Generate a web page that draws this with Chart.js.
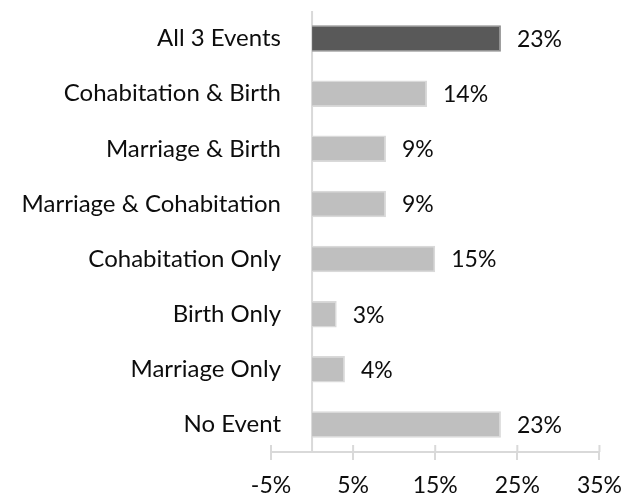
<!DOCTYPE html>
<html>
<head>
<meta charset="utf-8">
<script src="https://cdn.jsdelivr.net/npm/chart.js@4/dist/chart.umd.min.js"></script>
<style>
  html, body { margin: 0; padding: 0; background: #ffffff; }
  #wrap { width: 634px; height: 499px; }
</style>
</head>
<body>
<div id="wrap"><canvas id="c" width="634" height="499"></canvas></div>
<script>
const categories = ['All 3 Events', 'Cohabitation & Birth', 'Marriage & Birth', 'Marriage & Cohabitation', 'Cohabitation Only', 'Birth Only', 'Marriage Only', 'No Event'];
const percentages = [23, 14, 9, 9, 15, 3, 4, 23];
const xTickValues = [-5, 5, 15, 25, 35];
const highlightedCategory = 'All 3 Events';

const FONT = 'Lato, "Open Sans", sans-serif';
const FSIZE = 24;
const NSIZE = 23;
const TEXT = '#0d0d0d';
const AXIS = '#d9d9d9';

const zeroLine = {
  id: 'zeroLine',
  beforeDatasetsDraw(chart) {
    const {ctx, chartArea, scales} = chart;
    const x = scales.x.getPixelForValue(0);
    ctx.save();
    ctx.strokeStyle = AXIS;
    ctx.lineWidth = 2;
    ctx.beginPath();
    ctx.moveTo(x, chartArea.top);
    ctx.lineTo(x, chartArea.bottom);
    ctx.stroke();
    // upward part of the crossing tick marks
    scales.x.ticks.forEach(t => {
      const px = scales.x.getPixelForValue(t.value);
      ctx.beginPath();
      ctx.moveTo(px, chartArea.bottom - 7);
      ctx.lineTo(px, chartArea.bottom);
      ctx.stroke();
    });
    ctx.restore();
  }
};

const valueLabels = {
  id: 'valueLabels',
  afterDatasetsDraw(chart) {
    const {ctx} = chart;
    const meta = chart.getDatasetMeta(0);
    ctx.save();
    ctx.font = NSIZE + 'px ' + FONT;
    ctx.fillStyle = TEXT;
    ctx.textAlign = 'left';
    ctx.textBaseline = 'middle';
    meta.data.forEach((bar, i) => {
      ctx.fillText(percentages[i] + '%', bar.x + 16, bar.y + 1);
    });
    ctx.restore();
  }
};

new Chart(document.getElementById('c'), {
  type: 'bar',
  data: {
    labels: categories,
    datasets: [{
      data: percentages,
      backgroundColor: c => categories[c.dataIndex] === highlightedCategory ? '#595959' : '#bfbfbf',
      borderColor: c => categories[c.dataIndex] === highlightedCategory ? '#8a8a8a' : '#d9d9d9',
      borderWidth: 1.5,
      categoryPercentage: 1,
      barPercentage: 0.48
    }]
  },
  options: {
    indexAxis: 'y',
    responsive: false,
    animation: false,
    devicePixelRatio: 1,
    layout: { padding: { left: 0, right: 34, top: 11, bottom: 0 } },
    plugins: { legend: { display: false }, tooltip: { enabled: false } },
    scales: {
      x: {
        min: -5,
        max: 35,
        afterBuildTicks: s => { s.ticks = xTickValues.map(v => ({ value: v })); },
        afterFit: s => { s.height = 47; },
        grid: { display: true, drawOnChartArea: false, drawTicks: true, tickLength: 8, tickColor: AXIS, tickWidth: 2, color: AXIS, lineWidth: 2 },
        border: { display: true, color: AXIS, width: 2 },
        ticks: {
          padding: 12,
          color: TEXT,
          font: { family: FONT, size: NSIZE },
          maxRotation: 0,
          callback: v => v + '%'
        }
      },
      y: {
        position: 'left',
        afterFit: s => {
          s.width = 271;
          // labels sit between the -5% edge and the 0% line, so don't clip them to the scale box
          s._computeLabelArea = () => undefined;
        },
        grid: { display: false, drawTicks: false },
        border: { display: false },
        ticks: {
          padding: -10,
          color: TEXT,
          font: { family: FONT, size: FSIZE },
          autoSkip: false
        }
      }
    }
  },
  plugins: [zeroLine, valueLabels]
});
</script>
</body>
</html>
